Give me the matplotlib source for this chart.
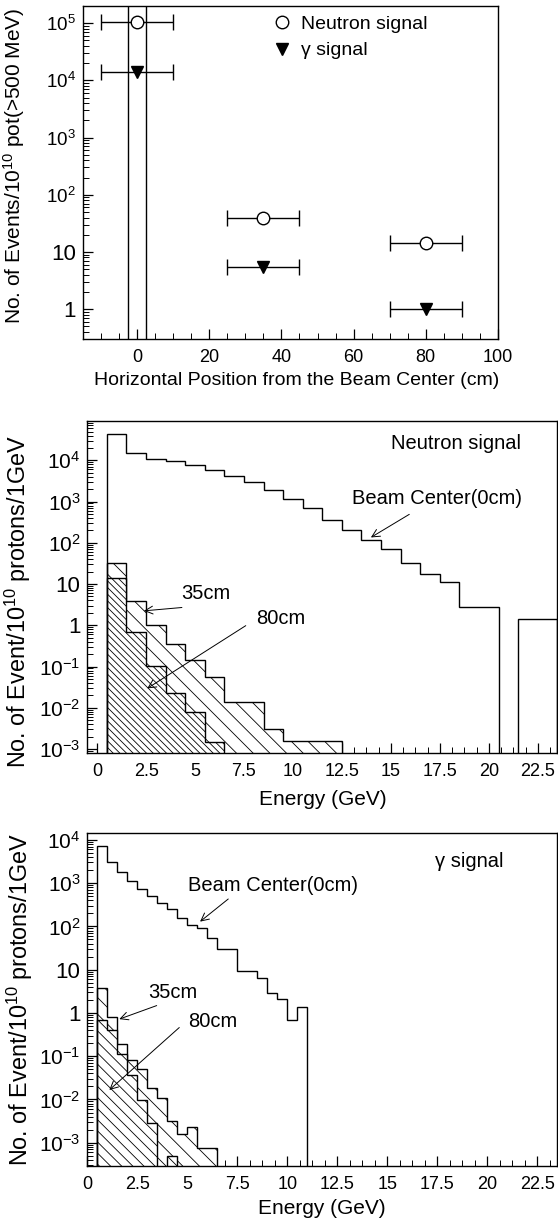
import numpy as np
import matplotlib
matplotlib.use("Agg")
import matplotlib.pyplot as plt
from matplotlib.lines import Line2D
from matplotlib.ticker import MultipleLocator, FixedLocator, FuncFormatter, NullFormatter

plt.rcParams['font.family'] = ['Liberation Sans', 'DejaVu Sans']
plt.rcParams['mathtext.fontset'] = 'custom'
plt.rcParams['mathtext.rm'] = 'Liberation Sans'
plt.rcParams['mathtext.it'] = 'Liberation Sans:italic'
plt.rcParams['hatch.linewidth'] = 0.6

# --- top panel: events vs horizontal position
pos_cm = [0, 35, 80]
pos_err = [10, 10, 10]
neutron_events = [1.05e5, 39, 14.5]
gamma_events = [1.4e4, 5.5, 1.0]
beam_edges = [-2.5, 2.5]

# --- middle panel: neutron energy spectra (1 GeV bins)
n_edges_0cm = np.arange(0.5, 24.0, 1.0)
n_vals_0cm = [4.4e4, 1.5e4, 1.1e4, 9.5e3, 7.6e3, 5.7e3, 4.2e3, 3.0e3, 1.9e3, 1.15e3,
              680, 350, 205, 120, 70, 32, 18, 11.3, 2.8, 2.8, 0, 1.4, 1.4]
n_edges_35cm = np.arange(0.5, 13.0, 1.0)
n_vals_35cm = [32, 3.9, 1.0, 0.36, 0.144, 0.056, 0.0138, 0.0138, 0.0031, 0.0016, 0.0016, 0.0016]
n_edges_80cm = np.arange(0.5, 7.0, 1.0)
n_vals_80cm = [13.8, 0.68, 0.105, 0.023, 0.0078, 0.0015]

# --- bottom panel: gamma energy spectra (0.5 GeV bins)
g_edges_0cm = np.arange(0.5, 11.25, 0.5)
g_vals_0cm = [7200, 3020, 1780, 1120, 730, 510, 352, 252, 154, 108, 90, 53, 30, 30,
              9.5, 9.5, 6.3, 2.9, 2.1, 0.69, 1.4]
g_edges_35cm = np.arange(0.5, 6.75, 0.5)
g_vals_35cm = [3.8, 0.79, 0.19, 0.082, 0.05, 0.018, 0.0107, 0.0032, 0.0016, 0.0023, 0.00076, 0.00076]
g_edges_80cm = np.arange(0.5, 4.75, 0.5)
g_vals_80cm = [0.69, 0.4, 0.11, 0.037, 0.0098, 0.0029, 0, 0.0005]

TEXT_FS = 14.5


def log_label(v, pos):
    e = int(round(np.log10(v)))
    if e == 0:
        return '1'
    if e == 1:
        return '10'
    return r'$10^{%d}$' % e


def style_axes(ax, ylabsize, decades):
    ax.set_yscale('log')
    majors = [10.0 ** e for e in decades]
    minors = [m * 10.0 ** e for e in range(decades[0] - 1, decades[-1] + 1) for m in range(2, 10)]
    ax.yaxis.set_major_locator(FixedLocator(majors))
    ax.yaxis.set_minor_locator(FixedLocator(minors))
    ax.yaxis.set_major_formatter(FuncFormatter(log_label))
    ax.yaxis.set_minor_formatter(NullFormatter())
    ax.tick_params(which='both', direction='in', top=False, right=False)
    ax.tick_params(axis='x', labelsize=13, pad=7)
    ax.tick_params(axis='y', labelsize=ylabsize, pad=5)
    ax.tick_params(which='major', length=7, width=0.9)
    ax.tick_params(which='minor', length=4, width=0.7)
    for s in ax.spines.values():
        s.set_linewidth(1.0)


def energy_panel(ax, edges0, vals0, edges35, vals35, edges80, vals80, hatch35, hatch80):
    ax.stairs(vals35, edges35, baseline=0, fill=True, facecolor='white',
              edgecolor='black', hatch=hatch35, lw=1.0, zorder=2)
    ax.stairs(vals80, edges80, baseline=0, fill=True, facecolor='white',
              edgecolor='black', hatch=hatch80, lw=1.0, zorder=2.5)
    ax.stairs(vals0, edges0, baseline=0, fill=False, color='black', lw=1.0, zorder=3)
    ax.xaxis.set_major_locator(MultipleLocator(2.5))
    ax.xaxis.set_minor_locator(MultipleLocator(0.625))
    ax.xaxis.set_major_formatter(FuncFormatter(lambda v, p: '%g' % v))
    ax.set_xlabel('Energy (GeV)', fontsize=15)
    ax.set_ylabel('No. of Event/10$^{10}$ protons/1GeV', fontsize=16.8)


fig = plt.figure(figsize=(5.58, 12.27), dpi=100)
arrow = dict(arrowstyle='->', lw=0.7, color='black', mutation_scale=14,
             shrinkA=0, shrinkB=0)

# top panel
ax1 = fig.add_axes([0.1487, 0.7237, 0.7437, 0.2714])
style_axes(ax1, 13.5, list(range(0, 6)))
for xb in beam_edges:
    ax1.axvline(xb, color='black', lw=1.0, zorder=1)
ax1.errorbar(pos_cm, neutron_events, xerr=pos_err, fmt='o', ms=9, mfc='white',
             mec='black', ecolor='black', elinewidth=1.0, capsize=6, capthick=1.0, zorder=3)
ax1.errorbar(pos_cm, gamma_events, xerr=pos_err, fmt='v', ms=9, mfc='black',
             mec='black', ecolor='black', elinewidth=1.0, capsize=6, capthick=1.0, zorder=3)
ax1.set_xlim(-15, 100)
ax1.set_ylim(0.3, 2e5)
ax1.xaxis.set_major_locator(MultipleLocator(20))
ax1.xaxis.set_minor_locator(MultipleLocator(5))
ax1.set_xlabel('Horizontal Position from the Beam Center (cm)', fontsize=14)
ax1.set_ylabel('No. of Events/10$^{10}$ pot(>500 MeV)', fontsize=15)
handles = [Line2D([], [], marker='o', ls='none', ms=9, mfc='white', mec='black'),
           Line2D([], [], marker='v', ls='none', ms=9, mfc='black', mec='black')]
ax1.legend(handles, ['Neutron signal', '\u03b3 signal'], loc='upper left',
           bbox_to_anchor=(0.455, 0.972), frameon=False, fontsize=14, handlelength=1.0,
           handletextpad=0.5, labelspacing=0.45, borderpad=0, borderaxespad=0)
ax1.xaxis.set_label_coords(0.514, -0.1)
ax1.yaxis.set_label_coords(-0.135, 0.52)

# middle panel
ax2 = fig.add_axes([0.1565, 0.3863, 0.8423, 0.2706])
style_axes(ax2, 15, list(range(-3, 5)))
energy_panel(ax2, n_edges_0cm, n_vals_0cm, n_edges_35cm, n_vals_35cm,
             n_edges_80cm, n_vals_80cm, '\\' * 2, '\\' * 5)
ax2.set_xlim(-0.5, 23.5)
ax2.set_ylim(8e-4, 9e4)
ax2.text(15.0, 2.6e4, 'Neutron signal', fontsize=TEXT_FS, ha='left', va='center')
ax2.annotate('', xy=(13.98, 135), xytext=(15.94, 490), arrowprops=arrow)
ax2.text(13.03, 1200, 'Beam Center(0cm)', fontsize=TEXT_FS, ha='left', va='center')
ax2.annotate('', xy=(2.39, 2.24), xytext=(4.33, 2.7), arrowprops=arrow)
ax2.text(4.27, 6.0, '35cm', fontsize=TEXT_FS, ha='left', va='center')
ax2.annotate('', xy=(2.56, 0.0295), xytext=(7.59, 0.98), arrowprops=arrow)
ax2.text(8.1, 1.49, '80cm', fontsize=TEXT_FS, ha='left', va='center')
ax2.xaxis.set_label_coords(0.5, -0.11)
ax2.yaxis.set_label_coords(-0.115, 0.455)

# bottom panel
ax3 = fig.add_axes([0.1565, 0.0497, 0.8418, 0.2714])
style_axes(ax3, 15, list(range(-3, 5)))
energy_panel(ax3, g_edges_0cm, g_vals_0cm, g_edges_35cm, g_vals_35cm,
             g_edges_80cm, g_vals_80cm, '\\' * 2, '\\' * 3)
ax3.set_xlim(0, 23.5)
ax3.set_ylim(2.9e-4, 1.44e4)
ax3.text(17.39, 3100, '\u03b3 signal', fontsize=TEXT_FS, ha='left', va='center')
ax3.annotate('', xy=(5.64, 129), xytext=(7.05, 430), arrowprops=arrow)
ax3.text(5.05, 900, 'Beam Center(0cm)', fontsize=TEXT_FS, ha='left', va='center')
ax3.annotate('', xy=(1.6, 0.72), xytext=(3.47, 1.48), arrowprops=arrow)
ax3.text(3.05, 2.94, '35cm', fontsize=TEXT_FS, ha='left', va='center')
ax3.annotate('', xy=(1.1, 0.0166), xytext=(4.6, 0.46), arrowprops=arrow)
ax3.text(5.05, 0.63, '80cm', fontsize=TEXT_FS, ha='left', va='center')
ax3.xaxis.set_label_coords(0.5, -0.1)
ax3.yaxis.set_label_coords(-0.111, 0.5)

# plain "1" and "10" labels are drawn larger than the 10^n ones
fig.canvas.draw()
for ax in (ax1, ax2, ax3):
    for t in ax.yaxis.get_major_ticks():
        if t.label1.get_text() in ('1', '10'):
            t.label1.set_fontsize(16)

fig.savefig('out.png', dpi=100)
